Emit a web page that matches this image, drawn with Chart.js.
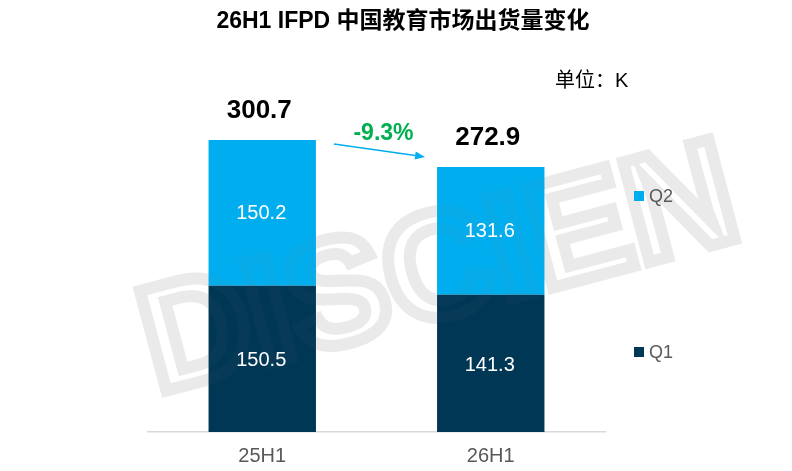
<!DOCTYPE html>
<html>
<head>
<meta charset="utf-8">
<script src="https://cdn.jsdelivr.net/npm/chart.js@4"></script>
<style>
  html, body { margin: 0; padding: 0; background: #fff; }
  #wrap { width: 792px; height: 471px; }
</style>
</head>
<body>
<div id="wrap"><canvas id="chart"></canvas></div>
<script>
// data
const categories = ['25H1', '26H1'];
const q1 = [150.5, 141.3];
const q2 = [150.2, 131.6];
const totals = [300.7, 272.9];
const change = '-9.3%';
const chartTitle = '26H1 IFPD 中国教育市场出货量变化';
const unitText = '单位：K';

const FONT = "'Liberation Sans', 'Noto Sans CJK SC', Arial, sans-serif";
const COLOR_Q1 = '#003755';
const COLOR_Q2 = '#00AEEF';

function watermark(ctx, color) {
  ctx.save();
  ctx.translate(440, 275);
  ctx.rotate(-0.26);
  ctx.font = 'bold 150px ' + FONT;
  ctx.textAlign = 'center';
  ctx.textBaseline = 'middle';
  ctx.lineWidth = 12;
  ctx.strokeStyle = color;
  ctx.strokeText('DISCIEN', 0, 0);
  ctx.restore();
}

const overlay = {
  id: 'overlay',
  beforeDatasetsDraw(chart) {
    watermark(chart.ctx, 'rgba(210,210,210,0.3)');
  },
  afterDatasetsDraw(chart) {
    const ctx = chart.ctx;
    const m1 = chart.getDatasetMeta(0);
    const m2 = chart.getDatasetMeta(1);
    watermark(ctx, 'rgba(120,120,120,0.05)');
    ctx.save();

    ctx.textAlign = 'center';
    ctx.textBaseline = 'middle';
    // segment labels
    ctx.fillStyle = '#ffffff';
    ctx.font = '20px ' + FONT;
    m1.data.forEach((bar, i) => {
      ctx.fillText(q1[i].toFixed(1), bar.x - 1, (bar.y + bar.base) / 2 + 2);
    });
    m2.data.forEach((bar, i) => {
      ctx.fillText(q2[i].toFixed(1), bar.x - 1, (bar.y + bar.base) / 2 + 1);
    });
    // totals
    ctx.fillStyle = '#000000';
    ctx.font = 'bold 26px ' + FONT;
    m2.data.forEach((bar, i) => {
      ctx.fillText(totals[i].toFixed(1), bar.x - 3, bar.y - 29);
    });

    // arrow between bars
    const a = m2.data[0], b = m2.data[1];
    const x0 = a.x + a.width / 2 + 18, y0 = a.y + 4;
    const x1 = b.x - b.width / 2 - 12, y1 = b.y - 10;
    const ang = Math.atan2(y1 - y0, x1 - x0);
    ctx.strokeStyle = COLOR_Q2;
    ctx.fillStyle = COLOR_Q2;
    ctx.lineWidth = 1.5;
    ctx.beginPath();
    ctx.moveTo(x0, y0);
    ctx.lineTo(x1 - 8 * Math.cos(ang), y1 - 8 * Math.sin(ang));
    ctx.stroke();
    ctx.beginPath();
    ctx.moveTo(x1, y1);
    ctx.lineTo(x1 - 10 * Math.cos(ang) + 4 * Math.sin(ang), y1 - 10 * Math.sin(ang) - 4 * Math.cos(ang));
    ctx.lineTo(x1 - 10 * Math.cos(ang) - 4 * Math.sin(ang), y1 - 10 * Math.sin(ang) + 4 * Math.cos(ang));
    ctx.closePath();
    ctx.fill();
    ctx.fillStyle = '#00B050';
    ctx.font = 'bold 23px ' + FONT;
    ctx.fillText(change, (x0 + x1) / 2 + 4, y0 - 10);

    // title and unit
    ctx.fillStyle = '#000000';
    ctx.font = 'bold 23px ' + FONT;
    ctx.fillText(chartTitle, 403, 22);
    ctx.font = '20px ' + FONT;
    ctx.textAlign = 'left';
    ctx.fillText(unitText, 555, 81);

    // legend on the right
    const area = chart.chartArea;
    const lx = area.right + 29;
    ctx.font = '18px ' + FONT;
    [['Q2', COLOR_Q2, 196], ['Q1', COLOR_Q1, 352]].forEach(([name, color, y]) => {
      ctx.fillStyle = color;
      ctx.fillRect(lx, y - 5, 10, 10);
      ctx.fillStyle = '#595959';
      ctx.fillText(name, lx + 15, y + 1);
    });
    ctx.restore();
  }
};

new Chart(document.getElementById('chart'), {
  type: 'bar',
  data: {
    labels: categories,
    datasets: [
      { label: 'Q1', data: q1, backgroundColor: COLOR_Q1 },
      { label: 'Q2', data: q2, backgroundColor: COLOR_Q2 }
    ]
  },
  options: {
    responsive: true,
    maintainAspectRatio: false,
    animation: false,
    layout: { padding: { left: 148, right: 187, top: 92, bottom: 0 } },
    plugins: {
      legend: { display: false },
      tooltip: { enabled: false },
      title: { display: false }
    },
    scales: {
      x: {
        stacked: true,
        grid: { display: false, drawTicks: false },
        border: { display: true, color: '#d9d9d9', width: 1.5 },
        ticks: { color: '#595959', font: { family: FONT, size: 20 }, padding: 12 },
        afterFit(scale) { scale.height = 39; }
      },
      y: {
        stacked: true,
        display: false,
        min: 0,
        max: 350
      }
    },
    datasets: { bar: { categoryPercentage: 1, barPercentage: 0.47 } }
  },
  plugins: [overlay]
});
</script>
</body>
</html>
